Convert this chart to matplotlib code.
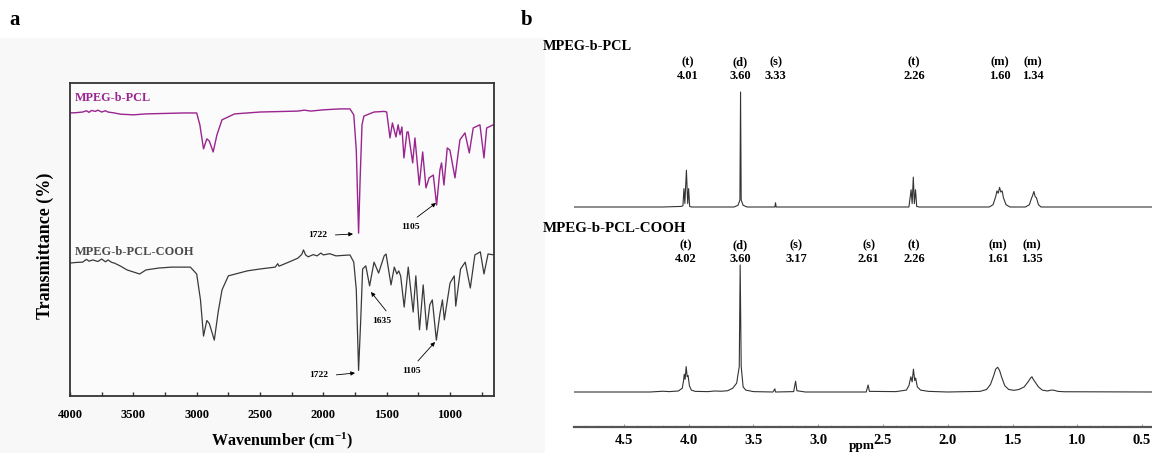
import matplotlib
matplotlib.use("Agg")
import matplotlib.pyplot as plt
import matplotlib.transforms as mtransforms
from matplotlib.patches import Rectangle, FancyArrowPatch

# ---------------- DATA ----------------
# FTIR, MPEG-b-PCL (wavenumber cm-1, transmittance a.u.)
ir_pcl_wn = [4000, 3950, 3900, 3870, 3850, 3830, 3800, 3780, 3750, 3720, 3700, 3650, 3600, 3500, 3400,
             3200, 3100, 3000, 2975, 2946, 2920, 2900, 2870, 2840, 2800, 2700, 2500, 2200, 2150, 2100,
             2000, 1870, 1790, 1760, 1740, 1722, 1710, 1695, 1680, 1600, 1520, 1500, 1474, 1455, 1427,
             1410, 1395, 1380, 1364, 1340, 1330, 1295, 1277, 1243, 1216, 1190, 1165, 1132, 1106, 1080,
             1067, 1048, 1022, 1001, 961, 922, 882, 848, 817, 764, 732, 711, 659]
ir_pcl_t = [90.7, 90.8, 91.0, 91.4, 90.9, 91.5, 91.2, 91.6, 91.0, 91.4, 91.0, 90.7, 90.3, 90.1, 90.4,
            90.6, 90.7, 90.7, 86.9, 79.2, 82.4, 81.7, 78.2, 83.7, 88.5, 90.4, 91.0, 91.3, 91.6, 91.3,
            91.7, 92.0, 92.0, 90.1, 78.8, 52.2, 69.2, 86.9, 89.7, 91.0, 91.2, 91.0, 82.7, 87.5, 83.0,
            86.9, 83.7, 86.2, 76.3, 84.6, 84.6, 74.7, 82.7, 67.6, 78.2, 66.7, 69.9, 70.8, 61.2, 72.4,
            74.7, 67.6, 79.5, 78.8, 69.9, 82.1, 84.3, 77.9, 85.9, 86.9, 76.3, 85.9, 86.9]

# FTIR, MPEG-b-PCL-COOH
ir_cooh_wn = [4000, 3950, 3900, 3870, 3850, 3820, 3780, 3750, 3720, 3700, 3670, 3650, 3600, 3550, 3450,
              3400, 3300, 3200, 3050, 3000, 2970, 2946, 2920, 2900, 2861, 2830, 2800, 2750, 2600, 2500,
              2380, 2360, 2350, 2250, 2200, 2170, 2157, 2140, 2120, 2080, 2050, 2020, 2000, 1950, 1900,
              1790, 1760, 1740, 1722, 1705, 1690, 1665, 1635, 1600, 1564, 1520, 1505, 1466, 1440, 1420,
              1405, 1390, 1362, 1330, 1291, 1270, 1241, 1212, 1184, 1160, 1140, 1108, 1080, 1060, 1045,
              1000, 967, 955, 917, 880, 840, 804, 761, 732, 700, 650]
ir_cooh_t = [42.6, 42.8, 42.9, 43.8, 43.2, 43.6, 43.1, 43.9, 43.0, 43.6, 42.8, 42.6, 41.6, 40.4, 39.1,
             40.4, 41.0, 41.3, 41.3, 39.1, 30.8, 19.2, 24.2, 23.2, 17.9, 27.0, 34.0, 38.5, 40.1, 40.7,
             41.3, 42.4, 41.6, 43.3, 44.2, 45.4, 46.8, 45.2, 44.6, 45.3, 44.9, 45.8, 45.2, 45.6, 44.9,
             45.2, 42.9, 34.0, 8.2, 24.4, 40.7, 41.7, 35.3, 42.9, 39.4, 44.9, 45.5, 35.6, 41.3, 39.1,
             40.1, 38.5, 28.5, 41.3, 26.9, 38.5, 21.2, 35.6, 21.2, 29.2, 30.8, 17.9, 26.3, 30.8, 24.4,
             36.2, 38.5, 28.8, 40.7, 42.9, 34.6, 45.2, 46.2, 39.1, 45.5, 45.2]

ir_labels = ["MPEG-b-PCL", "MPEG-b-PCL-COOH"]
ir_ticks = [4000, 3500, 3000, 2500, 2000, 1500, 1000]

# 1H NMR, MPEG-b-PCL (ppm, relative intensity, 3.60 = 100)
nmr_pcl_ppm = [4.90, 4.20, 4.06, 4.045, 4.037, 4.030, 4.018, 4.008, 4.001, 3.993, 3.98,
               3.65, 3.62, 3.605, 3.600, 3.595, 3.58, 3.55, 3.335, 3.330, 3.325,
               2.30, 2.283, 2.275, 2.266, 2.258, 2.249, 2.24, 2.22,
               1.68, 1.65, 1.63, 1.62, 1.61, 1.60, 1.59, 1.58, 1.57, 1.55, 1.52,
               1.40, 1.37, 1.355, 1.345, 1.335, 1.325, 1.315, 1.30, 1.28, 0.42]
nmr_pcl_int = [0, 0, 0.5, 1, 16, 3, 32, 3, 16, 0.5, 0,
               0, 1.5, 6, 100, 6, 1.5, 0, 0, 3.7, 0,
               0, 15, 3, 26, 3, 15, 0.5, 0,
               0, 2, 9, 14, 12, 17, 13, 14, 8, 2, 0,
               0, 2, 7, 10, 13.5, 9, 8, 2, 0, 0]
nmr_pcl_shifts = ["4.01", "3.60", "3.33", "2.26", "1.60", "1.34"]
nmr_pcl_mult = ["(t)", "(d)", "(s)", "(t)", "(m)", "(m)"]

# 1H NMR, MPEG-b-PCL-COOH
nmr_cooh_ppm = [4.90, 4.30, 4.20, 4.15, 4.08, 4.05, 4.04, 4.035, 4.028, 4.02, 4.012, 4.005, 3.995, 3.98,
                3.95, 3.85, 3.80, 3.75, 3.70, 3.66, 3.63, 3.61, 3.603, 3.595, 3.58, 3.56, 3.50,
                3.35, 3.335, 3.33, 3.19, 3.175, 3.165, 3.10, 2.63, 2.615, 2.605,
                2.40, 2.32, 2.30, 2.285, 2.275, 2.265, 2.255, 2.248, 2.235, 2.21, 2.15, 2.00,
                1.75, 1.70, 1.67, 1.645, 1.63, 1.615, 1.60, 1.585, 1.56, 1.53, 1.49,
                1.45, 1.41, 1.38, 1.36, 1.35, 1.34, 1.32, 1.30, 1.27, 1.23, 1.20, 1.18,
                1.15, 1.10, 0.42]
nmr_cooh_int = [0, 0, 0.6, 0.3, 0.8, 3, 9, 14, 10, 20, 12, 13, 5, 1.5,
                0.5, 0.3, 0.8, 0.6, 1, 3, 7, 20, 100, 20, 4, 1.5, 0.3,
                0, 2.5, 0, 0.3, 8.5, 1, 0, 0, 5.5, 0.5,
                0.3, 1.5, 5, 12, 8, 18, 9, 11, 4, 1.5, 0.5, 0,
                0.5, 2, 6, 13, 18, 19.5, 17, 12, 5, 2, 1.3,
                2, 4, 8, 11, 12, 10, 7, 4, 1.5, 0.8, 1.5, 1.4,
                0.5, 0.2, 0]
nmr_cooh_shifts = ["4.02", "3.60", "3.17", "2.61", "2.26", "1.61", "1.35"]
nmr_cooh_mult = ["(t)", "(d)", "(s)", "(s)", "(t)", "(m)", "(m)"]

nmr_ticks = [4.5, 4.0, 3.5, 3.0, 2.5, 2.0, 1.5, 1.0, 0.5]

# ---------------- FIGURE ----------------
W, H = 1152, 453
plt.rcParams["font.family"] = ["Liberation Serif", "DejaVu Serif"]
plt.rcParams["font.weight"] = "bold"
plt.rcParams["mathtext.fontset"] = "custom"
plt.rcParams["mathtext.rm"] = "Liberation Serif:bold"
plt.rcParams["mathtext.bf"] = "Liberation Serif:bold"
plt.rcParams["mathtext.default"] = "rm"

fig = plt.figure(figsize=(W / 100, H / 100), dpi=100)
fig.patch.set_facecolor("white")

# pixel transform (origin top-left)
pix = mtransforms.Affine2D().scale(1 / W, -1 / H).translate(0, 1) + fig.transFigure

def fbox(x0, y0, x1, y1):
    return [x0 / W, 1 - y1 / H, (x1 - x0) / W, (y1 - y0) / H]

# faint backdrop of panel a
fig.patches.append(Rectangle((0, 0), 545 / W, 1 - 38 / H, transform=fig.transFigure,
                             facecolor="#f8f8f8", edgecolor="none", zorder=-5))

# ---------- panel a ----------
axa = fig.add_axes(fbox(70, 83, 494, 396))
axa.set_facecolor("#fbfbfb")
purple = "#9a2490"
grey = "#3a3a3a"
axa.plot(ir_pcl_wn, ir_pcl_t, color=purple, lw=1.0)
axa.plot(ir_cooh_wn, ir_cooh_t, color=grey, lw=0.9)
axa.set_xlim(4000, 653)
axa.set_ylim(0, 100.3)
axa.set_yticks([])
axa.set_xticks(ir_ticks)
axa.set_xticks([3750, 3250, 2750, 2250, 1750, 1250, 750], minor=True)
axa.tick_params(axis="x", which="both", direction="in", length=3, width=1.0, color="#333333",
                labelsize=9, pad=9)
for lab in axa.get_xticklabels():
    lab.set_fontweight("bold")
for s in axa.spines.values():
    s.set_linewidth(1.3)
    s.set_color("#333333")
axa.set_xlabel("Wavenumber (cm$^{-1}$)", fontsize=11.5, fontweight="bold", labelpad=7)
fig.text(45 / W, 1 - 246 / H, "Transmittance (%)", rotation=90, ha="center", va="center",
         fontsize=13, fontweight="bold")

fig.text(75 / W, 1 - 98 / H, ir_labels[0], color=purple, fontsize=8.7, fontweight="bold",
         ha="left", va="center")
fig.text(75 / W, 1 - 252 / H, ir_labels[1], color="#4a4a4a", fontsize=8.9, fontweight="bold",
         ha="left", va="center")

arrow_kw = dict(arrowstyle="-|>", lw=0.6, color="black", mutation_scale=6, shrinkA=1, shrinkB=0)
ann = [("1722", (327, 235), (353, 234), "right"),
       ("1105", (411, 227), (436, 203), "center"),
       ("1722", (328, 375), (355, 373), "right"),
       ("1635", (382, 321), (371, 292), "center"),
       ("1105", (412, 371), (435, 342), "center")]
for txt, tpos, tip, ha in ann:
    fig.text(tpos[0] / W, 1 - tpos[1] / H, txt, fontsize=6.8, fontweight="bold", ha=ha, va="center")
    if ha == "right":
        start = (tpos[0] + 7, tpos[1])
    else:
        start = (tpos[0] + 5, tpos[1] - 9)
    fig.add_artist(FancyArrowPatch(start, tip, transform=pix, **arrow_kw))

fig.text(15 / W, 1 - 20 / H, "a", fontsize=15, fontweight="bold", ha="center", va="center")
fig.text(527 / W, 1 - 20 / H, "b", fontsize=15, fontweight="bold", ha="center", va="center")

# ---------- panel b ----------
axb = fig.add_axes(fbox(574, 40, 1152, 427))
axb.patch.set_alpha(0)
px_per_unit = 1.27
base_low = 392
axb.set_xlim(4.886, 0.423)
axb.set_ylim(-(427 - base_low) / px_per_unit, (base_low - 40) / px_per_unit)
upper_off = (base_low - 207) / px_per_unit
upper_scale = 115 / px_per_unit / 100
lower_scale = 127 / px_per_unit / 100
axb.plot(nmr_pcl_ppm, [upper_off + v * upper_scale for v in nmr_pcl_int], color="#333333", lw=0.8)
axb.plot(nmr_cooh_ppm, [v * lower_scale for v in nmr_cooh_int], color="#333333", lw=0.8)
for side in ("left", "right", "top"):
    axb.spines[side].set_visible(False)
axb.spines["bottom"].set_linewidth(1.6)
axb.spines["bottom"].set_color("#555555")
axb.set_yticks([])
axb.set_xticks(nmr_ticks)
axb.set_xticks([v / 10 for v in range(5, 49) if v % 5 != 0], minor=True)
axb.tick_params(axis="x", which="major", direction="in", length=2, width=0.6, color="#888888",
                labelsize=10.5, pad=5)
axb.tick_params(axis="x", which="minor", direction="in", length=1.5, width=0.5, color="#aaaaaa")
for lab in axb.get_xticklabels():
    lab.set_fontweight("bold")
fig.text(862 / W, 1 - 452.5 / H, "ppm", fontsize=9.5, fontweight="bold", ha="center", va="bottom")

fig.text(543 / W, 1 - 46 / H, "MPEG-b-PCL", fontsize=10.3, fontweight="bold", ha="left", va="center")
fig.text(543 / W, 1 - 229 / H, "MPEG-b-PCL-COOH", fontsize=10.8, fontweight="bold", ha="left",
         va="center")

blend = mtransforms.blended_transform_factory(axb.transData, pix)
for m, s in zip(nmr_pcl_mult, nmr_pcl_shifts):
    axb.text(float(s), 62.5, m, transform=blend, fontsize=9, fontweight="bold", ha="center",
             va="center")
    axb.text(float(s), 76, s, transform=blend, fontsize=9, fontweight="bold", ha="center",
             va="center")
for m, s in zip(nmr_cooh_mult, nmr_cooh_shifts):
    axb.text(float(s), 245, m, transform=blend, fontsize=9, fontweight="bold", ha="center",
             va="center")
    axb.text(float(s), 259, s, transform=blend, fontsize=9, fontweight="bold", ha="center",
             va="center")

fig.savefig("out.png", dpi=100, facecolor=fig.get_facecolor())
